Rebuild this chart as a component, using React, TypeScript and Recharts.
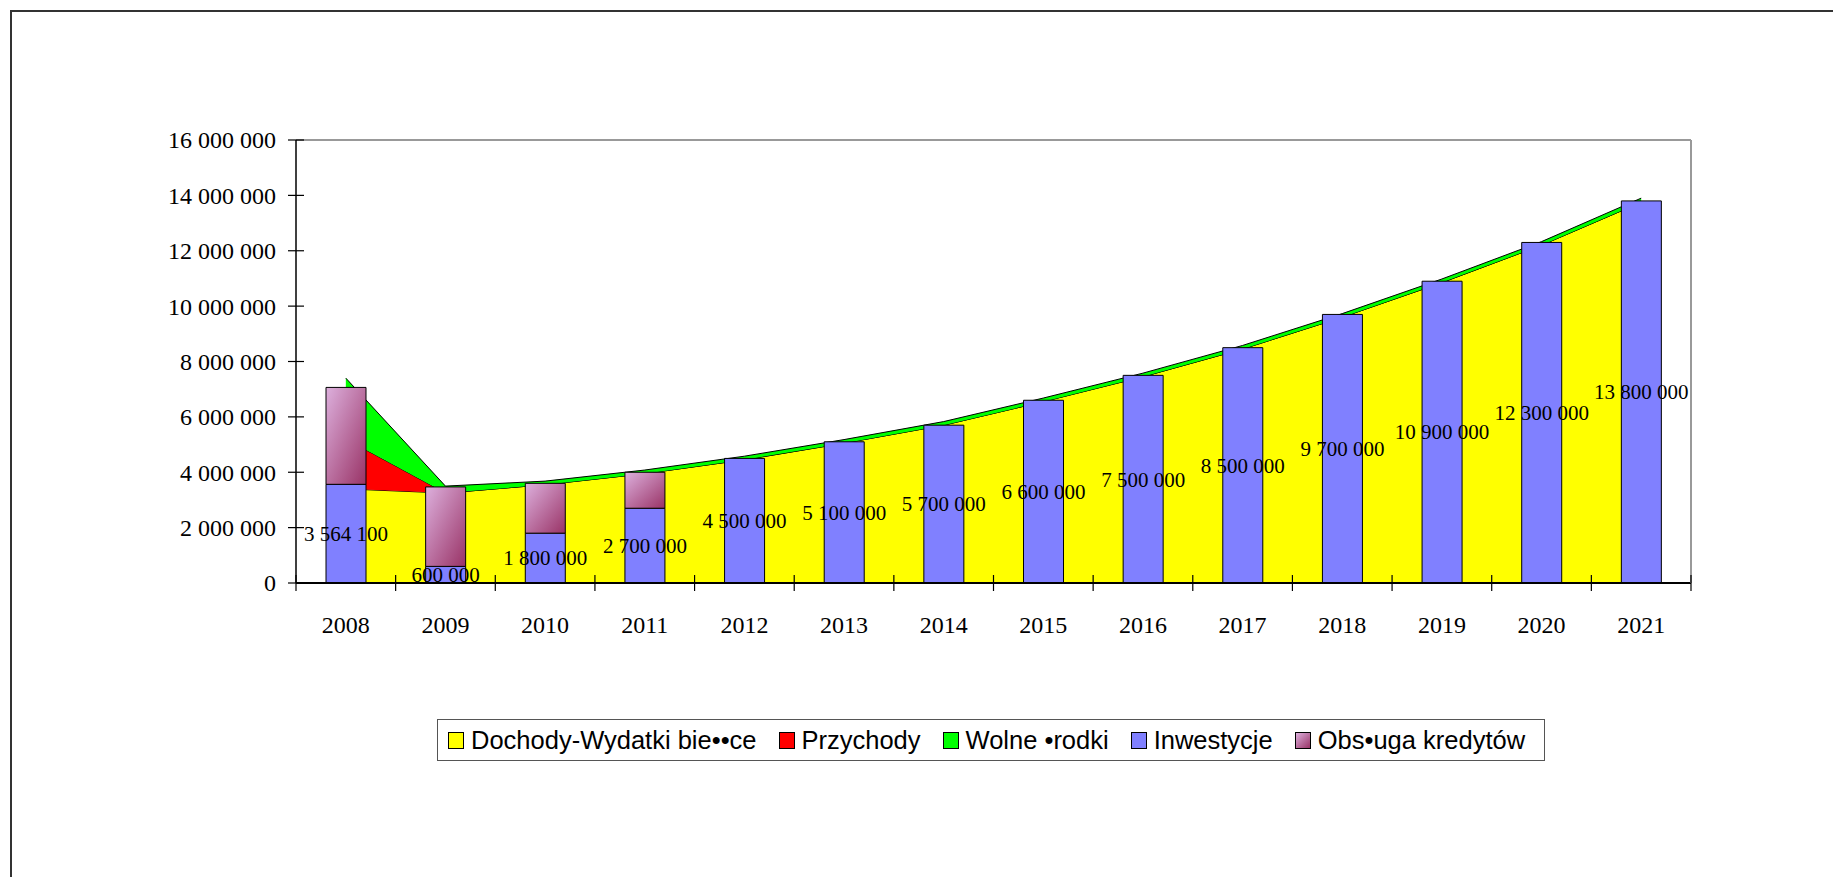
import React from "react";
import {
  Area,
  Bar,
  ComposedChart,
  LabelList,
  ReferenceLine,
  XAxis,
  YAxis,
} from "recharts";

const years = [
  "2008", "2009", "2010", "2011", "2012", "2013", "2014",
  "2015", "2016", "2017", "2018", "2019", "2020", "2021",
];
// stacked areas
const dochody = [
  3400000, 3250000, 3550000, 3950000, 4450000, 5050000, 5700000,
  6550000, 7450000, 8450000, 9600000, 10850000, 12200000, 13750000,
];
const przychody = [1800000, 0, 0, 0, 0, 0, 0, 0, 0, 0, 0, 0, 0, 0];
const wolneSrodki = [
  2200000, 250000, 130000, 130000, 130000, 130000, 130000,
  130000, 130000, 130000, 130000, 130000, 130000, 150000,
];
// stacked bars
const inwestycje = [
  3564100, 600000, 1800000, 2700000, 4500000, 5100000, 5700000,
  6600000, 7500000, 8500000, 9700000, 10900000, 12300000, 13800000,
];
const obslugaKredytow = [
  3500000, 2870000, 1800000, 1300000, null, null, null,
  null, null, null, null, null, null, null,
];
const yTicks = [
  0, 2000000, 4000000, 6000000, 8000000, 10000000, 12000000, 14000000, 16000000,
];

const legendItems = [
  { name: "Dochody-Wydatki bie••ce", color: "#FFFF00" },
  { name: "Przychody", color: "#FF0000" },
  { name: "Wolne •rodki", color: "#00FF00" },
  { name: "Inwestycje", color: "#8080FF" },
  { name: "Obs•uga kredytów", color: "linear-gradient(135deg, #DDB0DD, #993366)" },
];

const data = years.map((year, i) => ({
  year,
  dochody: dochody[i],
  przychody: przychody[i],
  wolne: wolneSrodki[i],
  inwestycje: inwestycje[i],
  obsluga: obslugaKredytow[i],
}));

const fmt = (v: any) =>
  v == null ? "" : String(v).replace(/\B(?=(\d{3})+(?!\d))/g, " ");

const SERIF = "'Times New Roman', 'Liberation Serif', serif";
const SANS = "Arial, 'Liberation Sans', sans-serif";

const W = 1760;
const H = 700;
const PLOT_LEFT = 288;
const PLOT_RIGHT = 1683;
const PLOT_BOTTOM = 575;
const BAND = (PLOT_RIGHT - PLOT_LEFT) / years.length;

function YTick(props: any) {
  const { x, y, payload } = props;
  return (
    <g>
      <line x1={x + 12} x2={x + 28} y1={y} y2={y} stroke="#000" strokeWidth={1.2} />
      <text x={x} y={y} dy="0.35em" textAnchor="end" fontSize={24} fontFamily={SERIF} fill="#000">
        {fmt(payload.value)}
      </text>
    </g>
  );
}

function XTick(props: any) {
  const { x, y, payload, index } = props;
  const left = x - BAND / 2;
  return (
    <g>
      <line x1={left} x2={left} y1={y - 8} y2={y + 8} stroke="#000" strokeWidth={1.2} />
      {index === years.length - 1 && (
        <line x1={x + BAND / 2} x2={x + BAND / 2} y1={y - 8} y2={y + 8} stroke="#000" strokeWidth={1.2} />
      )}
      <text x={x} y={y + 50} textAnchor="middle" fontSize={24} fontFamily={SERIF} fill="#000">
        {payload.value}
      </text>
    </g>
  );
}

function BarValueLabel(props: any) {
  const { x, y, width, height, value } = props;
  if (value == null) return null;
  return (
    <text
      x={x + width / 2}
      y={y + height / 2}
      dy="0.35em"
      textAnchor="middle"
      fontSize={21}
      fontFamily={SERIF}
      fill="#000"
    >
      {fmt(value)}
    </text>
  );
}

function LegendBox() {
  return (
    <div
      style={{
        position: "absolute",
        left: 429,
        top: 711,
        width: 1108,
        height: 42,
        boxSizing: "border-box",
        border: "1.5px solid #555",
        background: "#fff",
        display: "flex",
        alignItems: "center",
        paddingLeft: 10,
        fontFamily: SANS,
        fontSize: 25.5,
        color: "#000",
        whiteSpace: "nowrap",
      }}
    >
      {legendItems.map((item) => (
        <div key={item.name} style={{ display: "flex", alignItems: "center", marginRight: 22 }}>
          <span
            style={{
              display: "inline-block",
              width: 14,
              height: 15,
              border: "1px solid #000",
              background: item.color,
              marginRight: 7,
            }}
          />
          <span>{item.name}</span>
        </div>
      ))}
    </div>
  );
}

export default function App() {
  return (
    <div style={{ position: "relative", width: 1825, height: 869, overflow: "hidden", background: "#fff" }}>
      <div
        style={{
          position: "absolute",
          left: 2,
          top: 2,
          width: 3000,
          height: 3000,
          borderTop: "2px solid #333",
          borderLeft: "2px solid #333",
        }}
      />
      <div style={{ position: "absolute", left: 0, top: 0 }}>
        <ComposedChart
          width={W}
          height={H}
          data={data}
          margin={{ top: 132, left: 188, right: W - PLOT_RIGHT - 2, bottom: H - PLOT_BOTTOM - 60 }}
        >
          <defs>
            <linearGradient id="obsGrad" x1="0" y1="0" x2="1" y2="1">
              <stop offset="0%" stopColor="#DDB0DD" />
              <stop offset="100%" stopColor="#993366" />
            </linearGradient>
          </defs>
          <XAxis
            dataKey="year"
            height={60}
            interval={0}
            tickSize={0}
            tickMargin={0}
            tickLine={false}
            axisLine={{ stroke: "#000", strokeWidth: 2 }}
            tick={(p: any) => <XTick {...p} />}
          />
          <YAxis
            yAxisId="left"
            width={100}
            domain={[0, 16000000]}
            ticks={yTicks}
            interval={0}
            tickSize={8}
            tickMargin={12}
            tickLine={false}
            axisLine={{ stroke: "#000", strokeWidth: 1.5 }}
            tick={(p: any) => <YTick {...p} />}
          />
          <YAxis
            yAxisId="right"
            orientation="right"
            width={2}
            domain={[0, 16000000]}
            tick={false}
            tickLine={false}
            axisLine={{ stroke: "#999", strokeWidth: 2 }}
          />
          <ReferenceLine yAxisId="left" y={16000000} stroke="#999" strokeWidth={2} />
          <Area
            yAxisId="left"
            type="linear"
            dataKey="dochody"
            stackId="a"
            fill="#FFFF00"
            fillOpacity={1}
            stroke="#000"
            strokeWidth={1}
            dot={false}
            activeDot={false}
            isAnimationActive={false}
          />
          <Area
            yAxisId="left"
            type="linear"
            dataKey="przychody"
            stackId="a"
            fill="#FF0000"
            fillOpacity={1}
            stroke="#000"
            strokeWidth={1}
            dot={false}
            activeDot={false}
            isAnimationActive={false}
          />
          <Area
            yAxisId="left"
            type="linear"
            dataKey="wolne"
            stackId="a"
            fill="#00FF00"
            fillOpacity={1}
            stroke="#000"
            strokeWidth={1}
            dot={false}
            activeDot={false}
            isAnimationActive={false}
          />
          <Bar
            yAxisId="left"
            dataKey="inwestycje"
            stackId="b"
            fill="#8080FF"
            stroke="#000"
            strokeWidth={1}
            barSize={40}
            isAnimationActive={false}
          >
            <LabelList dataKey="inwestycje" content={(p: any) => <BarValueLabel {...p} />} />
          </Bar>
          <Bar
            yAxisId="left"
            dataKey="obsluga"
            stackId="b"
            fill="url(#obsGrad)"
            stroke="#000"
            strokeWidth={1}
            barSize={40}
            isAnimationActive={false}
          />
        </ComposedChart>
      </div>
      <LegendBox />
    </div>
  );
}
